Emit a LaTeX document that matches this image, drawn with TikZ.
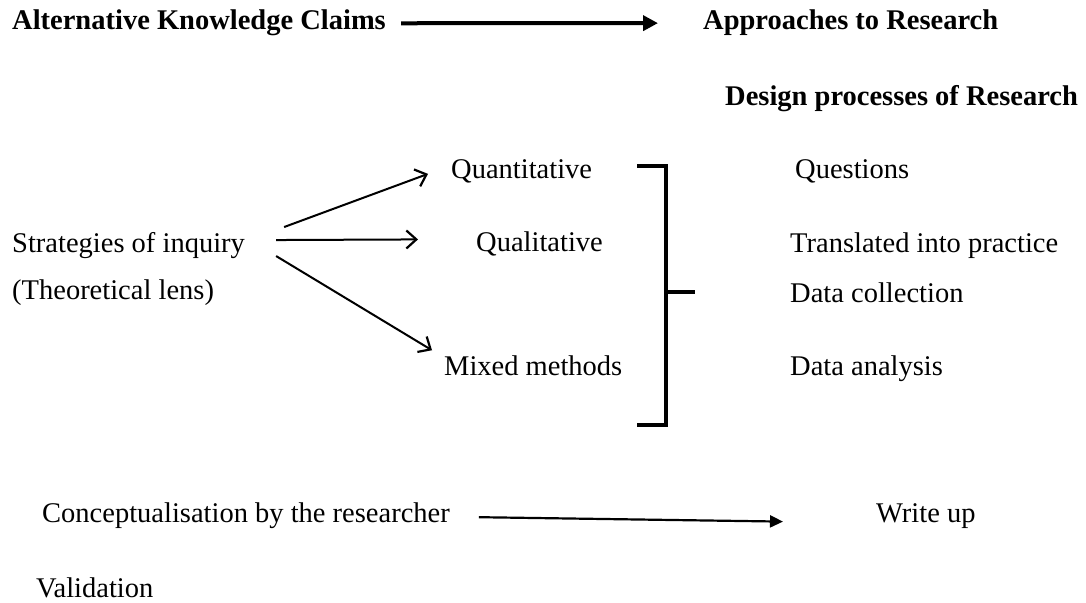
\documentclass[tikz,border=0pt]{standalone}
\usepackage{fontspec}
\setmainfont{Liberation Serif}
\usetikzlibrary{arrows.meta,calc}
\begin{document}
\begin{tikzpicture}[x=1pt,y=-1pt,
  lbl/.style={anchor=base west,inner sep=0pt,font=\fontsize{28.5}{34}\selectfont},
  blbl/.style={lbl,font=\fontsize{28.5}{34}\selectfont\bfseries},
  thickarrow/.style={line width=4pt,-{Triangle[length=15pt,width=15pt]}},
  thinarrow/.style={line width=2.2pt,-{Triangle[length=13pt,width=12pt]}},
  barb/.style={line width=2pt,-{Straight Barb[length=10pt,width=18pt,line width=2.2pt]}},
  bracket/.style={line width=4pt}]
\useasboundingbox (0,0) rectangle (1086,602);
% texts
\node[blbl] (akc) at (12,30) {Alternative Knowledge Claims};
\node[blbl] (atr) at (703,30) {Approaches to Research};
\node[blbl] (dpr) at (725,105) {Design processes of Research};
\node[lbl] (quant) at (451,178) {Quantitative};
\node[lbl] (qual) at (476,251) {Qualitative};
\node[lbl] (mixed) at (444,375) {Mixed methods};
\node[lbl] (strat) at (12,252) {Strategies of inquiry};
\node[lbl] (theo) at (12,299) {(Theoretical lens)};
\node[lbl] (q1) at (795,178) {Questions};
\node[lbl] (q2) at (790,252) {Translated into practice};
\node[lbl] (q3) at (790,302) {Data collection};
\node[lbl] (q4) at (790,375) {Data analysis};
\node[lbl] (conc) at (42,522) {Conceptualisation by the researcher};
\node[lbl] (write) at (876,522) {Write up};
\node[lbl] (valid) at (36,597) {Validation};
% arrows
\draw[thickarrow] ($(akc.east)+(15,0)$) -- ($(atr.west)+(-45,0)$);
\draw[barb] ($(strat.east)+(39,-18)$) -- ($(quant.west)+(-23,3)$);
\draw[barb] ($(strat.east)+(31,-5)$) -- ($(qual.west)+(-58,-4)$);
\draw[barb] ($(strat.east)+(31,11)$) -- ($(mixed.west)+(-12,-15)$);
\draw[thinarrow] ($(conc.east)+(29,2)$) -- ($(write.west)+(-93,6)$);
% bracket
\coordinate (brtop) at (637,166);
\coordinate (brbot) at (637,425);
\coordinate (brmid) at (666,292);
\draw[bracket] (brtop) -- (666,166) -- (666,425) -- (brbot);
\draw[bracket] (brmid) -- (695,292);
\end{tikzpicture}
\end{document}
